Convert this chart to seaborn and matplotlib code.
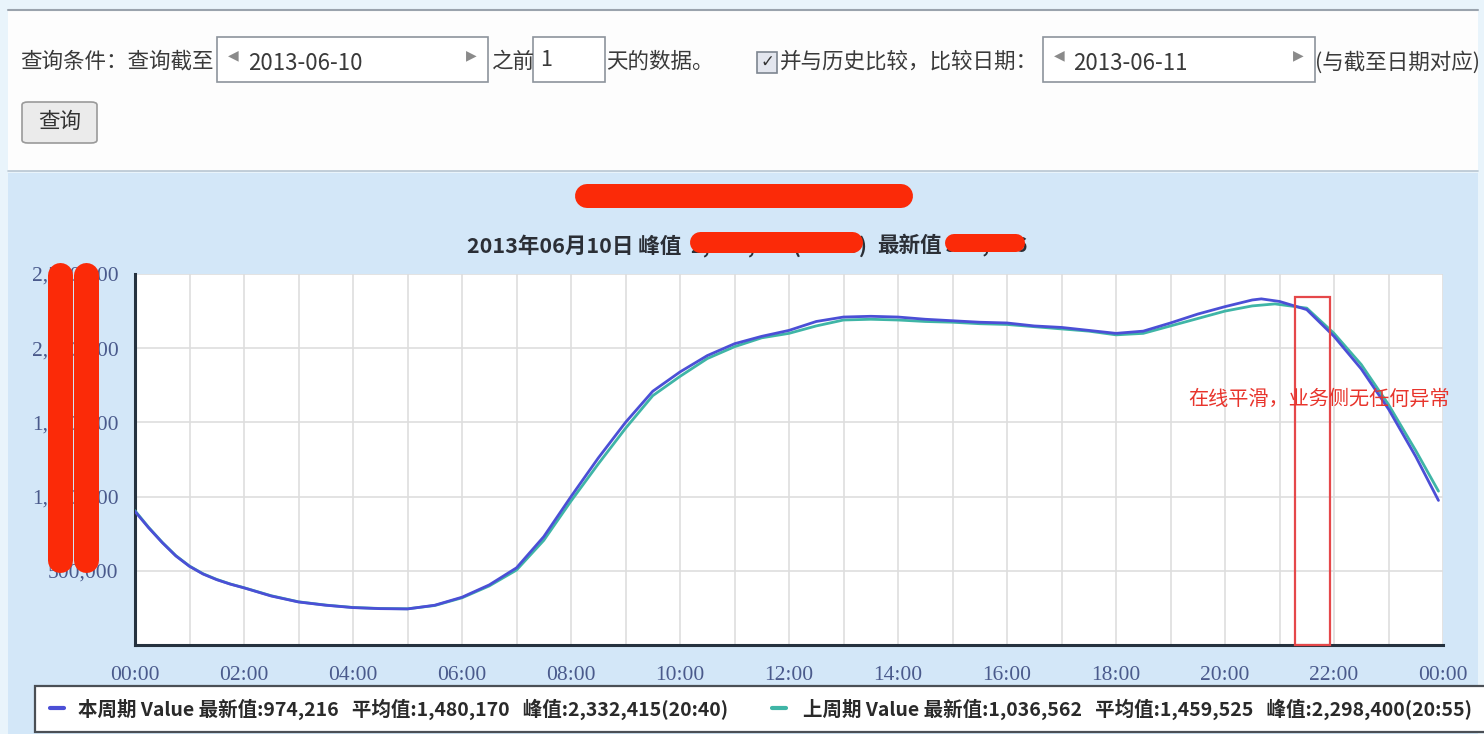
import numpy as np
import pandas as pd
import matplotlib
matplotlib.use("Agg")
import matplotlib.pyplot as plt
import seaborn as sns
from matplotlib.patches import Rectangle, FancyBboxPatch
from matplotlib.lines import Line2D
from matplotlib.ticker import MultipleLocator, FuncFormatter

# ---- data -----------------------------------------------------------------
cur_times = ["00:00", "00:15", "00:30", "00:45", "01:00", "01:15", "01:30", "01:45",
             "02:00", "02:30", "03:00", "03:30",
             "04:00", "04:30", "05:00", "05:30", "06:00", "06:30", "07:00", "07:30",
             "08:00", "08:30", "09:00", "09:30", "10:00", "10:30", "11:00", "11:30",
             "12:00", "12:30", "13:00", "13:30", "14:00", "14:30", "15:00", "15:30",
             "16:00", "16:30", "17:00", "17:30", "18:00", "18:30", "19:00", "19:30",
             "20:00", "20:30", "20:40", "21:00", "21:30", "22:00", "22:30", "23:00",
             "23:30", "23:55"]
cur_values = [900000, 790000, 690000, 600000, 530000, 478000, 440000, 410000,
              385000, 330000, 290000, 268000,
              252000, 245000, 243000, 268000, 322000, 405000, 520000, 730000,
              1000000, 1260000, 1500000, 1710000, 1840000, 1950000, 2030000, 2080000,
              2120000, 2180000, 2210000, 2215000, 2210000, 2195000, 2185000, 2175000,
              2170000, 2150000, 2140000, 2120000, 2100000, 2115000, 2170000, 2230000,
              2280000, 2325000, 2332415, 2315000, 2260000, 2080000, 1860000, 1590000,
              1270000, 974216]

prev_times = ["00:00", "00:15", "00:30", "00:45", "01:00", "01:15", "01:30", "01:45",
              "02:00", "02:30", "03:00", "03:30",
              "04:00", "04:30", "05:00", "05:30", "06:00", "06:30", "07:00", "07:30",
              "08:00", "08:30", "09:00", "09:30", "10:00", "10:30", "11:00", "11:30",
              "12:00", "12:30", "13:00", "13:30", "14:00", "14:30", "15:00", "15:30",
              "16:00", "16:30", "17:00", "17:30", "18:00", "18:30", "19:00", "19:30",
              "20:00", "20:30", "20:55", "21:30", "22:00", "22:30", "23:00", "23:30",
              "23:55"]
prev_values = [905000, 793000, 692000, 602000, 532000, 480000, 442000, 411000,
               386000, 332000, 291000, 269000,
               253000, 246000, 244000, 266000, 318000, 398000, 505000, 705000,
               970000, 1220000, 1460000, 1680000, 1810000, 1930000, 2010000, 2070000,
               2100000, 2150000, 2190000, 2195000, 2190000, 2180000, 2175000, 2165000,
               2160000, 2145000, 2130000, 2115000, 2090000, 2100000, 2150000, 2200000,
               2250000, 2285000, 2298400, 2270000, 2100000, 1890000, 1620000, 1310000,
               1036562]

series_names = ["本周期", "上周期"]
series_colors = ["#4b4fd6", "#3fb5a6"]

latest_values = ["974,216", "1,036,562"]
mean_values = ["1,480,170", "1,459,525"]
peak_values = ["2,332,415(20:40)", "2,298,400(20:55)"]

x_tick_labels = ["00:00", "02:00", "04:00", "06:00", "08:00", "10:00", "12:00",
                 "14:00", "16:00", "18:00", "20:00", "22:00", "00:00"]

query_end_date = "2013-06-10"
compare_date = "2013-06-11"
query_days = "1"
chart_date = "2013年06月10日"
highlight_window = ["21:17", "21:56"]
note_text = "在线平滑，业务侧无任何异常"


def to_minutes(t):
    h, m = t.split(":")
    return int(h) * 60 + int(m)


df = pd.concat([
    pd.DataFrame({"minute": [to_minutes(t) for t in cur_times],
                  "value": cur_values, "series": series_names[0]}),
    pd.DataFrame({"minute": [to_minutes(t) for t in prev_times],
                  "value": prev_values, "series": series_names[1]}),
], ignore_index=True)

# ---- figure ---------------------------------------------------------------
sns.set_theme(style="white")
plt.rcParams["font.family"] = ["Noto Sans CJK SC", "DejaVu Sans"]

W, H = 1484, 734
fig = plt.figure(figsize=(W / 100, H / 100), dpi=100, facecolor="#e9f4fb")


def fx(x):
    return x / W


def fy(y):
    return 1 - y / H


def fig_rect(x0, y0, x1, y1, **kw):
    fig.add_artist(Rectangle((fx(x0), fy(y1)), fx(x1) - fx(x0), fy(y0) - fy(y1),
                             transform=fig.transFigure, **kw))


def fig_text(x, y, s, **kw):
    fig.text(fx(x), fy(y), s, **kw)


def blob(x0, y0, x1, y1, width_px, color="#fb2a08"):
    fig.add_artist(Line2D([fx(x0), fx(x1)], [fy(y0), fy(y1)], transform=fig.transFigure,
                          lw=width_px * 0.72, color=color, solid_capstyle="round", zorder=20))


# query form panel
fig_rect(8, 10, 1478, 171, facecolor="#fdfdfd", edgecolor="none", zorder=0)
fig.add_artist(Line2D([fx(8), fx(1478)], [fy(10), fy(10)], transform=fig.transFigure,
                      color="#9aa3ad", lw=1.5))
fig.add_artist(Line2D([fx(8), fx(1478)], [fy(171), fy(171)], transform=fig.transFigure,
                      color="#b8c6d2", lw=1.2))

txt_kw = dict(fontsize=15.5, color="#3a3a3a", va="center")
arrow_kw = dict(fontsize=10, color="#8a8a8a", va="center", family="DejaVu Sans")
fig_text(20, 62, "查询条件：查询截至", **txt_kw)
fig_rect(217, 37, 488, 82, facecolor="white", edgecolor="#8d949c", lw=1.2)
fig_text(228, 55, "◀", **arrow_kw)
fig_text(248, 63, query_end_date, fontsize=16, color="#3a3a3a", va="center")
fig_text(466, 55, "▶", **arrow_kw)
fig_text(492, 62, "之前", **txt_kw)
fig_rect(533, 37, 605, 82, facecolor="white", edgecolor="#8d949c", lw=1.2)
fig_text(540, 60, query_days, **txt_kw)
fig_text(606, 62, "天的数据。", **txt_kw)
fig_rect(757, 52, 777, 73, facecolor="#e3e6ee", edgecolor="#7d8590", lw=1.2)
fig_text(760, 62, "✓", fontsize=12, color="#333", va="center", family="DejaVu Sans")
fig_text(780, 62, "并与历史比较，比较日期：", **txt_kw)
fig_rect(1043, 37, 1315, 82, facecolor="white", edgecolor="#8d949c", lw=1.2)
fig_text(1054, 55, "◀", **arrow_kw)
fig_text(1073, 63, compare_date, fontsize=16, color="#3a3a3a", va="center")
fig_text(1293, 55, "▶", **arrow_kw)
fig_text(1315, 62, "(与截至日期对应)", **txt_kw)

fig.add_artist(FancyBboxPatch((fx(22), fy(143)), fx(97) - fx(22), fy(102) - fy(143),
                              boxstyle="round,pad=0,rounding_size=0.004",
                              transform=fig.transFigure, facecolor="#ebebeb",
                              edgecolor="#9a9a9a", lw=1.2))
fig_text(59.5, 122, "查询", fontsize=15.5, color="#333", va="center", ha="center")

# chart panel
fig_rect(8, 173, 1478, 734, facecolor="#d3e7f8", edgecolor="none", zorder=0)

# titles
sub_kw = dict(fontsize=15.5, fontweight="bold", color="#2b2f36", va="center")
fig_text(467, 246, chart_date + " 峰值", **sub_kw)
fig_text(690, 246, peak_values[0], **sub_kw)
fig_text(877, 246, "最新值", **sub_kw)
fig_text(944, 246, latest_values[0], **sub_kw)
blob(587, 196, 901, 196, 24)
blob(700, 242, 852, 242, 21)
blob(954, 243, 1016, 243, 18)

# ---- plot area ------------------------------------------------------------
ax = fig.add_axes([fx(135), fy(645), fx(1443) - fx(135), fy(274) - fy(645)])
ax.set_facecolor("white")

sns.lineplot(data=df, x="minute", y="value", hue="series",
             hue_order=series_names[::-1], palette=dict(zip(series_names, series_colors)),
             lw=2.0, legend=False, ax=ax, zorder=3)

ax.set_xlim(0, 1440)
ax.set_ylim(0, 2500000)
ax.xaxis.set_minor_locator(MultipleLocator(60))
ax.set_xticks(np.arange(0, 1441, 120))
ax.set_xticklabels(x_tick_labels)
ax.yaxis.set_major_locator(MultipleLocator(500000))
ax.yaxis.set_minor_locator(MultipleLocator(100000))
ax.yaxis.set_major_formatter(FuncFormatter(lambda v, p: f"{int(v):,}" if v > 0 else ""))

ax.grid(which="major", axis="y", color="#dedede", lw=1.2)
ax.grid(which="both", axis="x", color="#dedede", lw=1.2)
ax.set_axisbelow(True)
for s in ["top", "right"]:
    ax.spines[s].set_visible(False)
for s in ["left", "bottom"]:
    ax.spines[s].set_color("#25323f")
    ax.spines[s].set_linewidth(2.2)

ax.tick_params(axis="both", which="both", direction="in", color="#25323f", width=1.6)
ax.tick_params(axis="both", which="major", length=7)
ax.tick_params(axis="x", which="minor", length=7)
ax.tick_params(axis="y", which="minor", length=4)
ax.tick_params(axis="x", which="major", pad=15, labelsize=15.5, labelcolor="#4a5a8c")
ax.tick_params(axis="y", which="major", pad=12, labelsize=15.5, labelcolor="#4a5a8c")
for lab in ax.get_xticklabels() + ax.get_yticklabels():
    lab.set_family("Liberation Serif")
ax.set_xlabel("")
ax.set_ylabel("")

# highlighted window and note
h0, h1 = to_minutes(highlight_window[0]), to_minutes(highlight_window[1])
ax.add_patch(Rectangle((h0, 0), h1 - h0, 2345000, fill=False, edgecolor="#e5484a",
                       lw=1.6, zorder=5, clip_on=False))
ax.text(1160, 1655000, note_text, fontsize=14.5, color="#e8342c", va="center", ha="left",
        zorder=6)

# redaction strokes over the value axis
blob(59.5, 275, 59.5, 560, 25)
blob(85.5, 275, 85.5, 560, 25)

# ---- legend bar -------------------------------------------------------------
fig_rect(35, 686, 1490, 732, facecolor="white", edgecolor="#4a4f55", lw=1.6)
leg_x = [(50, 78), (772, 803)]
for i, (mx, tx) in enumerate(leg_x):
    fig.add_artist(Line2D([fx(mx), fx(mx + 14)], [fy(708), fy(708)],
                          transform=fig.transFigure, color=series_colors[i], lw=3))
    fig_text(tx, 709, f"{series_names[i]} Value 最新值:{latest_values[i]}   "
                      f"平均值:{mean_values[i]}   峰值:{peak_values[i]}",
             fontsize=14, fontweight="bold", color="#2a2a2a", va="center")

fig.savefig("out.png", dpi=100, facecolor=fig.get_facecolor())
